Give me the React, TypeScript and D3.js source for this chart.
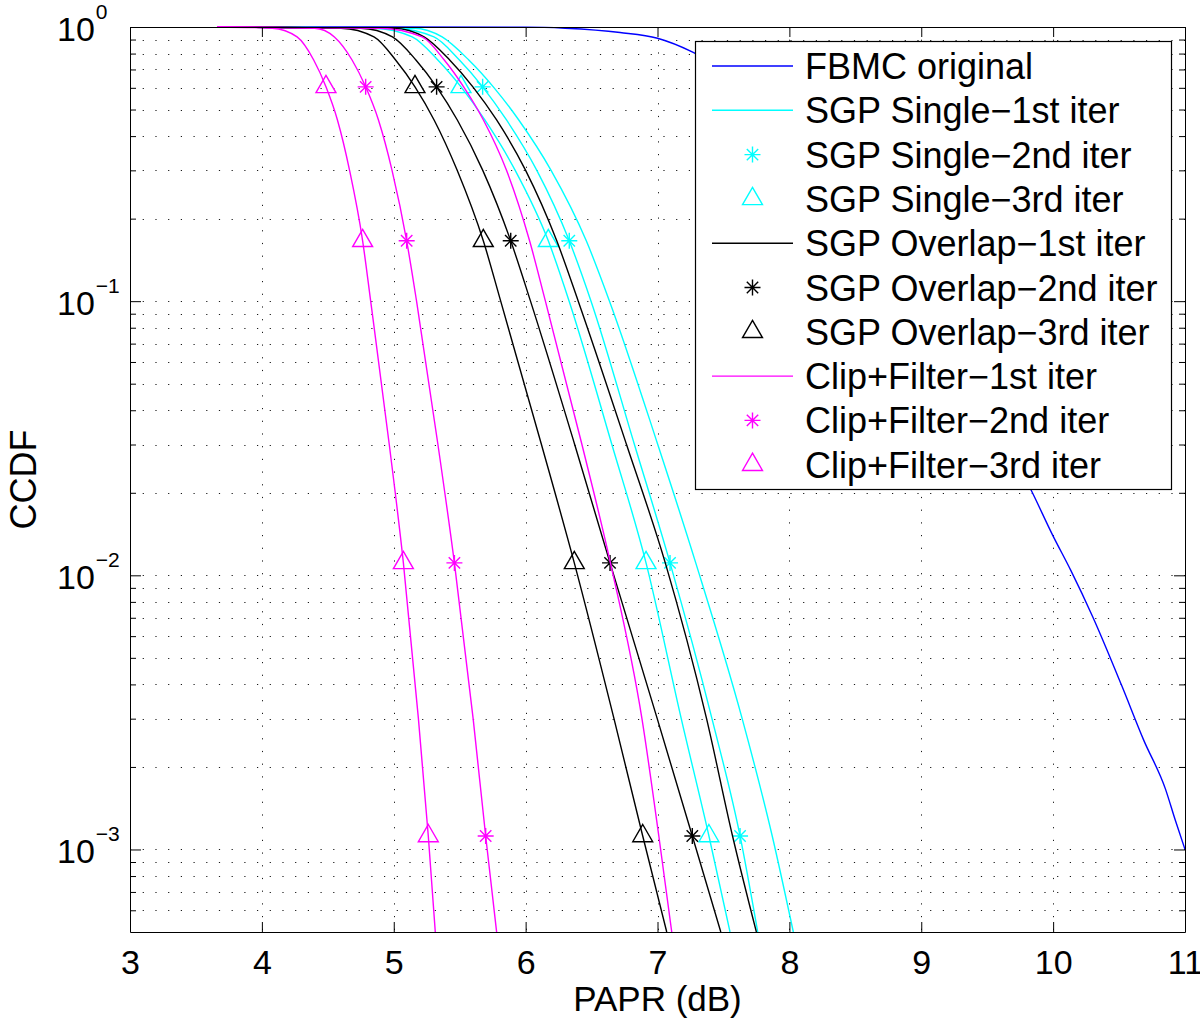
import React, { useRef, useEffect } from 'react';
import * as d3 from 'd3';

const ccdfLevels = [1, 0.99, 0.92, 0.758, 0.605, 0.458, 0.3, 0.166, 0.1, 0.03, 0.0111, 0.003, 0.00112, 0.0005];

// PAPR (dB) of each curve at those rows
const singleIter1 = [3.66, 5.15, 5.367, 5.569, 5.755, 5.948, 6.193, 6.46, 6.636, 7.002, 7.29, 7.642, 7.87, 8.03];
const singleIter2 = [3.66, 5.0, 5.305, 5.498, 5.674, 5.855, 6.085, 6.331, 6.496, 6.825, 7.095, 7.413, 7.626, 7.76];
const singleIter3 = [3.66, 4.85, 5.14, 5.334, 5.51, 5.691, 5.921, 6.172, 6.33, 6.654, 6.913, 7.18, 7.39, 7.55];
const overlapIter1 = [3.66, 5.0, 5.23, 5.424, 5.6, 5.78, 6.0, 6.236, 6.399, 6.765, 7.059, 7.372, 7.569, 7.75];
const overlapIter2 = [3.66, 4.75, 4.99, 5.168, 5.325, 5.482, 5.675, 5.887, 6.037, 6.372, 6.64, 6.998, 7.264, 7.48];
const overlapIter3 = [3.66, 4.6, 4.85, 5.014, 5.161, 5.306, 5.481, 5.679, 5.811, 6.12, 6.369, 6.67, 6.888, 7.07];
const clipIter1 = [3.66, 4.9, 5.215, 5.383, 5.53, 5.68, 5.855, 6.03, 6.15, 6.427, 6.643, 6.882, 7.01, 7.108];
const clipIter2 = [3.66, 4.4, 4.55, 4.684, 4.787, 4.884, 4.987, 5.098, 5.173, 5.335, 5.46, 5.602, 5.697, 5.78];
const clipIter3 = [3.66, 4.08, 4.267, 4.393, 4.486, 4.573, 4.665, 4.764, 4.825, 4.966, 5.073, 5.187, 5.262, 5.315];

// original FBMC curve (own sampling)
const fbmcPapr = [3.66, 6.0, 6.3, 6.716, 7.0, 7.267, 7.5, 8.0, 8.5, 9.0, 9.5, 9.83, 10.0, 10.135, 10.3, 10.52, 10.686, 10.852, 10.926, 11.0];
const fbmcCcdf = [1, 0.999, 0.99, 0.955, 0.91, 0.81, 0.7, 0.45, 0.24, 0.1, 0.04, 0.0206, 0.0139, 0.0104, 0.00706, 0.00396, 0.00251, 0.00166, 0.00128, 0.001];

// rows of ccdfLevels that carry the 2nd / 3rd iteration markers
const markerRows = [4, 7, 10, 12];

const xTicks = [3, 4, 5, 6, 7, 8, 9, 10, 11];
const yDecades = [0, -1, -2, -3];

const BLUE = '#0000ff';
const CYAN = '#00ffff';
const BLACK = '#000000';
const MAGENTA = '#ff00ff';
const FONT = '"Liberation Sans", Arial, Helvetica, sans-serif';

const series = [
  { label: 'FBMC original', color: BLUE, x: fbmcPapr, y: fbmcCcdf, marker: 'line' },
  { label: 'SGP Single−1st iter', color: CYAN, x: singleIter1, y: ccdfLevels, marker: 'line' },
  { label: 'SGP Single−2nd iter', color: CYAN, x: singleIter2, y: ccdfLevels, marker: 'star' },
  { label: 'SGP Single−3rd iter', color: CYAN, x: singleIter3, y: ccdfLevels, marker: 'tri' },
  { label: 'SGP Overlap−1st iter', color: BLACK, x: overlapIter1, y: ccdfLevels, marker: 'line' },
  { label: 'SGP Overlap−2nd iter', color: BLACK, x: overlapIter2, y: ccdfLevels, marker: 'star' },
  { label: 'SGP Overlap−3rd iter', color: BLACK, x: overlapIter3, y: ccdfLevels, marker: 'tri' },
  { label: 'Clip+Filter−1st iter', color: MAGENTA, x: clipIter1, y: ccdfLevels, marker: 'line' },
  { label: 'Clip+Filter−2nd iter', color: MAGENTA, x: clipIter2, y: ccdfLevels, marker: 'star' },
  { label: 'Clip+Filter−3rd iter', color: MAGENTA, x: clipIter3, y: ccdfLevels, marker: 'tri' },
];

// matlab style '*' and '^' markers
const starPath = 'M-8,0L8,0M0,-8L0,8M-5.7,-5.7L5.7,5.7M-5.7,5.7L5.7,-5.7';
const triPath = 'M0,-11.5L9.96,5.75L-9.96,5.75Z';

export default function App() {
  const svgRef = useRef<SVGSVGElement>(null);

  useEffect(() => {
    const svg = d3.select(svgRef.current);
    svg.selectAll('*').remove();

    const w = 1200;
    const h = 1028;
    const margin = { top: 27, right: 15, bottom: 96, left: 130 };
    const innerWidth = w - margin.left - margin.right;
    const innerHeight = h - margin.top - margin.bottom;

    svg.attr('width', w).attr('height', h);

    const xScale = d3.scaleLinear().domain([3, 11]).range([0, innerWidth]);
    const yScale = d3.scaleLog().domain([5e-4, 1]).range([innerHeight, 0]);

    const g = svg.append('g').attr('transform', `translate(${margin.left}, ${margin.top})`);

    g.append('rect').attr('width', innerWidth).attr('height', innerHeight).attr('fill', 'white');

    // minor + major y values inside the domain
    const yMinor: number[] = [];
    const yMajor: number[] = yDecades.map(d => Math.pow(10, d));
    for (let d = -4; d < 0; d++) {
      for (let k = 2; k <= 9; k++) {
        const v = k * Math.pow(10, d);
        if (v > 5e-4 && v < 1) yMinor.push(v);
      }
    }
    const yGrid = yMajor.filter(v => v < 1).concat(yMinor);

    // dotted grid
    const grid = g.append('g').attr('stroke', '#1a1a1a').attr('stroke-width', 1).attr('stroke-dasharray', '1.2,11.5');
    grid.selectAll('line.gx')
        .data(xTicks.slice(1, -1))
        .enter().append('line')
        .attr('x1', d => Math.round(xScale(d)) + 0.5)
        .attr('x2', d => Math.round(xScale(d)) + 0.5)
        .attr('y1', 0)
        .attr('y2', innerHeight);
    grid.selectAll('line.gy')
        .data(yGrid)
        .enter().append('line')
        .attr('x1', 0)
        .attr('x2', innerWidth)
        .attr('y1', d => Math.round(yScale(d)) + 0.5)
        .attr('y2', d => Math.round(yScale(d)) + 0.5);

    // axes box with inward ticks on every side
    const xBottom = svg.append('g')
        .attr('transform', `translate(${margin.left}, ${margin.top + innerHeight})`)
        .call(d3.axisBottom(xScale).tickValues(xTicks).tickSize(-10).tickSizeOuter(0).tickPadding(18).tickFormat(d3.format('d')));
    xBottom.attr('font-size', 34).attr('font-family', FONT);
    xBottom.selectAll('text').attr('fill', 'black');

    svg.append('g')
       .attr('transform', `translate(${margin.left}, ${margin.top})`)
       .call(d3.axisTop(xScale).tickValues(xTicks).tickSize(-10).tickSizeOuter(0).tickFormat(() => ''));

    svg.append('g')
       .attr('transform', `translate(${margin.left}, ${margin.top})`)
       .call(d3.axisLeft(yScale).tickValues(yMajor).tickSize(-11).tickSizeOuter(0).tickFormat(() => ''));
    svg.append('g')
       .attr('transform', `translate(${margin.left}, ${margin.top})`)
       .call(d3.axisLeft(yScale).tickValues(yMinor).tickSize(-6).tickSizeOuter(0).tickFormat(() => ''))
       .select('.domain').remove();
    svg.append('g')
       .attr('transform', `translate(${margin.left + innerWidth}, ${margin.top})`)
       .call(d3.axisRight(yScale).tickValues(yMajor).tickSize(-11).tickSizeOuter(0).tickFormat(() => ''));
    svg.append('g')
       .attr('transform', `translate(${margin.left + innerWidth}, ${margin.top})`)
       .call(d3.axisRight(yScale).tickValues(yMinor).tickSize(-6).tickSizeOuter(0).tickFormat(() => ''))
       .select('.domain').remove();

    // 10^n labels
    const yLabels = svg.append('g').attr('font-family', FONT).attr('fill', 'black');
    yDecades.forEach(d => {
      const t = yLabels.append('text')
        .attr('x', 57)
        .attr('y', margin.top + yScale(Math.pow(10, d)) + 14)
        .attr('font-size', 34)
        .text('10');
      t.append('tspan')
        .attr('dy', -22)
        .attr('dx', 1)
        .attr('font-size', 21)
        .text(d === 0 ? '0' : '−' + Math.abs(d));
    });

    // curves
    svg.append('defs').append('clipPath').attr('id', 'plot-clip')
       .append('rect').attr('x', 0).attr('y', -2).attr('width', innerWidth).attr('height', innerHeight + 2);

    const plot = g.append('g').attr('clip-path', 'url(#plot-clip)');

    series.forEach(s => {
      const line = d3.line<number>()
        .x(i => xScale(s.x[i]))
        .y(i => yScale(s.y[i]))
        .curve(d3.curveMonotoneX);

      plot.append('path')
          .datum(d3.range(s.x.length))
          .attr('fill', 'none')
          .attr('stroke', s.color)
          .attr('stroke-width', 1.4)
          .attr('d', line);

      if (s.marker !== 'line') {
        plot.selectAll(null)
            .data(markerRows)
            .enter().append('path')
            .attr('transform', r => `translate(${xScale(s.x[r])}, ${yScale(s.y[r])})`)
            .attr('d', s.marker === 'star' ? starPath : triPath)
            .attr('fill', 'none')
            .attr('stroke', s.color)
            .attr('stroke-width', 1.4);
      }
    });

    // legend
    const legend = svg.append('g').attr('transform', 'translate(695, 41)');
    legend.append('rect')
          .attr('x', 0.5)
          .attr('y', 0.5)
          .attr('width', 476)
          .attr('height', 448)
          .attr('fill', 'white')
          .attr('stroke', 'black')
          .attr('stroke-width', 1.2);

    series.forEach((s, i) => {
      const cy = 25 + 44.3 * i;
      if (s.marker === 'line') {
        legend.append('line')
              .attr('x1', 17).attr('x2', 98)
              .attr('y1', cy).attr('y2', cy)
              .attr('stroke', s.color)
              .attr('stroke-width', 1.4);
      } else {
        legend.append('path')
              .attr('transform', `translate(57.5, ${cy})`)
              .attr('d', s.marker === 'star' ? starPath : triPath)
              .attr('fill', 'none')
              .attr('stroke', s.color)
              .attr('stroke-width', 1.4);
      }
      legend.append('text')
            .attr('x', 110)
            .attr('y', cy + 13)
            .attr('font-family', FONT)
            .attr('font-size', 36)
            .attr('fill', 'black')
            .text(s.label);
    });

    // axis titles
    svg.append('text')
       .attr('x', margin.left + innerWidth / 2)
       .attr('y', 1011)
       .attr('text-anchor', 'middle')
       .attr('font-family', FONT)
       .attr('font-size', 35)
       .text('PAPR (dB)');

    svg.append('text')
       .attr('transform', `translate(36, ${margin.top + innerHeight / 2}) rotate(-90)`)
       .attr('text-anchor', 'middle')
       .attr('font-family', FONT)
       .attr('font-size', 36)
       .text('CCDF');
  }, []);

  return (
    <div style={{ position: 'absolute', left: 0, top: 0, background: 'white' }}>
      <svg ref={svgRef} style={{ display: 'block' }}></svg>
    </div>
  );
}
